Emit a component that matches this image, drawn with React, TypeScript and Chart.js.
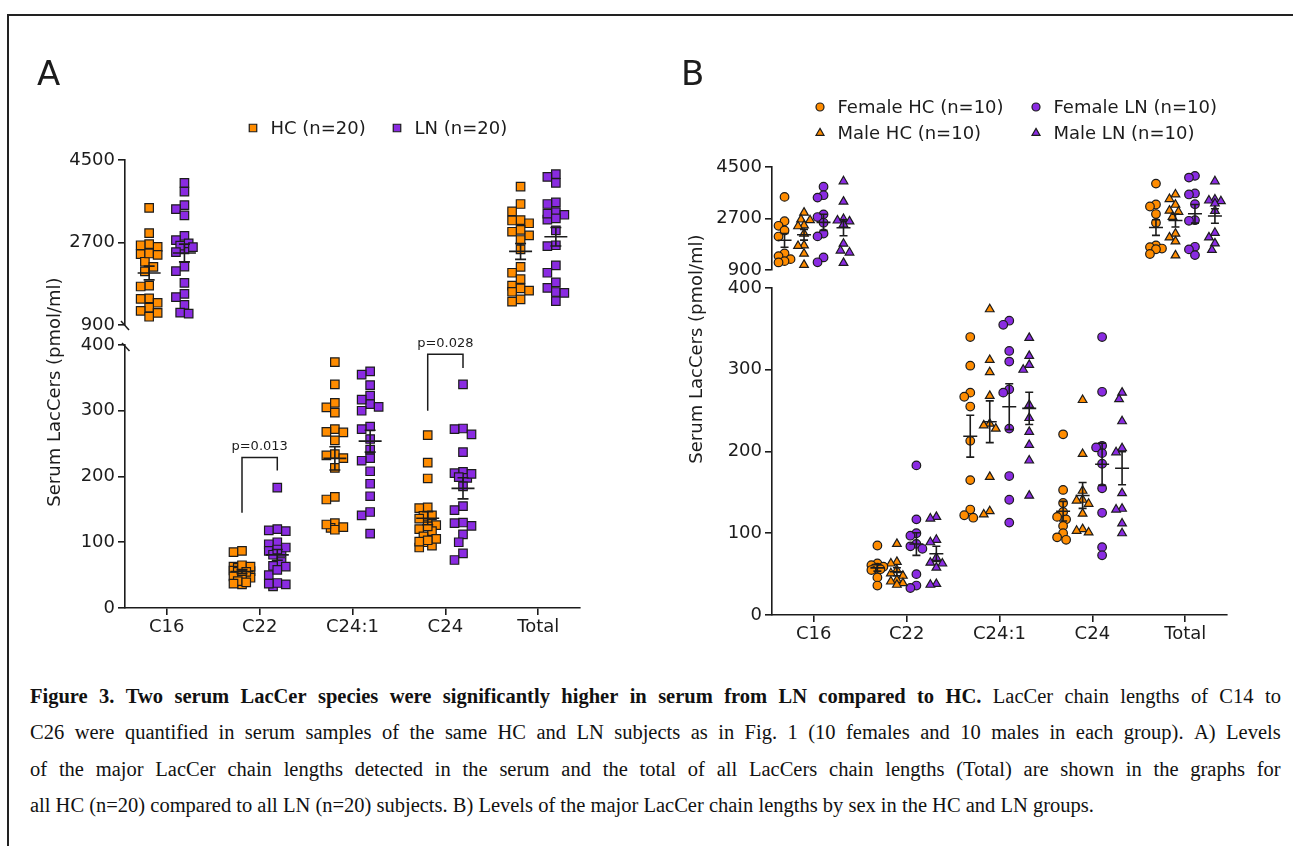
import React, { useEffect, useRef } from 'react';
import { Chart, registerables } from 'chart.js';

Chart.register(...registerables);

// ---- data ---------------------------------------------------------------
const categories = ['C16', 'C22', 'C24:1', 'C24', 'Total'];
const upperCats = [0, 4]; // plotted on the 900–4500 segment
const lowerCats = [1, 2, 3]; // plotted on the 0–400 segment
const upperTicks = [900, 2700, 4500];
const lowerTicks = [0, 100, 200, 300, 400];

// serum LacCer (pmol/ml) per subject; rows: C16, C22, C24:1, C24, Total
const femaleHC = [
  [3455, 2605, 2445, 2280, 2070, 1480, 1385, 1280, 1210, 1165],
  [85, 63, 61, 59, 58, 57, 56, 55, 46, 36],
  [340, 305, 272, 267, 255, 213, 165, 129, 122, 119],
  [221, 153, 137, 126, 120, 117, 109, 100, 95, 92],
  [3920, 3190, 3120, 2855, 2550, 1760, 1700, 1650, 1625, 1460],
];
const maleHC = [
  [2905, 2665, 2640, 2460, 2430, 2170, 1760, 1740, 1470, 1080],
  [87, 65, 63, 55, 51, 48, 43, 41, 39, 37],
  [374, 312, 297, 268, 234, 232, 228, 169, 127, 123],
  [263, 197, 152, 141, 140, 136, 124, 105, 103, 101],
  [3540, 3380, 3180, 2975, 2935, 2755, 2170, 2040, 1900, 1410],
];
const femaleLN = [
  [3810, 3515, 3430, 2845, 2750, 2550, 2175, 2075, 1340, 1170],
  [183, 117, 100, 97, 87, 84, 81, 50, 36, 33],
  [360, 355, 323, 310, 276, 272, 228, 170, 141, 113],
  [340, 273, 207, 205, 198, 185, 155, 125, 83, 73],
  [4190, 4130, 3575, 3540, 3200, 2640, 2620, 1710, 1620, 1420],
];
const maleLN = [
  [4000, 3290, 2680, 2630, 2600, 2490, 1820, 1580, 1510, 1150],
  [120, 118, 92, 89, 70, 64, 63, 58, 38, 37],
  [339, 317, 306, 300, 257, 241, 224, 208, 189, 146],
  [272, 264, 237, 204, 199, 149, 130, 129, 112, 100],
  [4000, 3365, 3330, 3305, 3225, 2965, 2200, 2040, 1830, 1600],
];

// all subjects of a group (panel A)
const allHC = femaleHC.map((v, i) => [...v, ...maleHC[i]]);
const allLN = femaleLN.map((v, i) => [...v, ...maleLN[i]]);

// significance brackets in panel A
const pLabels = ['p=0.013', 'p=0.028'];
const pCats = [1, 3];
const pBracketTop = [229, 386];
const pBracketHC = [145, 300];
const pBracketLN = [209, 365];

const yTitle = 'Serum LacCers (pmol/ml)';

// ---- styling ------------------------------------------------------------
const ORANGE = '#FF8C00';
const PURPLE = '#8A2BE2';
const INK = '#1c1c1c';
const SANS = '"DejaVu Sans", "Liberation Sans", sans-serif';
const SERIF = '"Liberation Serif", "DejaVu Serif", serif';

type Marker = 'rect' | 'circle' | 'triangle';
interface Group {
  label: string;
  values: number[][];
  offset: number;
  color: string;
  marker: Marker;
  radius: number;
  legendRadius: number;
}
interface Panel {
  letter: string;
  left: number;
  width: number;
  axisLeft: number;
  axisRight: number;
  upper: [number, number]; // page y of 4500 and 900
  lower: [number, number]; // page y of 400 and 0
  upperTop: number;
  upperH: number;
  lowerTop: number;
  lowerH: number;
  groups: Group[];
  swarmSize: number;
  swarmStep: number;
  swarmMax: number;
  meanHalf: number;
  capHalf: number;
  letterPos: [number, number];
  titlePos: [number, number];
  legend: [number, number][];
  broken: boolean;
  brackets: boolean;
}

const X_MIN = -0.45;
const X_MAX = 4.45;
const X_AXIS_H = 40;

const panels: Panel[] = [
  {
    letter: 'A',
    left: 0,
    width: 650,
    axisLeft: 125,
    axisRight: 580,
    upper: [160, 325],
    lower: [345, 608],
    upperTop: 140,
    upperH: 205,
    lowerTop: 40,
    lowerH: 620,
    groups: [
      { label: 'HC (n=20)', values: allHC, offset: -0.19, color: ORANGE, marker: 'rect', radius: 6, legendRadius: 5.3 },
      { label: 'LN (n=20)', values: allLN, offset: 0.19, color: PURPLE, marker: 'rect', radius: 6, legendRadius: 5.3 },
    ],
    swarmSize: 8.5,
    swarmStep: 4.25,
    swarmMax: 9,
    meanHalf: 11.5,
    capHalf: 5.5,
    letterPos: [37, 85],
    titlePos: [55, 392],
    legend: [
      [253, 128],
      [397, 128],
    ],
    broken: true,
    brackets: true,
  },
  {
    letter: 'B',
    left: 650,
    width: 643,
    axisLeft: 772,
    axisRight: 1227,
    upper: [167, 270],
    lower: [288, 615],
    upperTop: 147,
    upperH: 143,
    lowerTop: 40,
    lowerH: 627,
    groups: [
      { label: 'Female HC (n=10)', values: femaleHC, offset: -0.315, color: ORANGE, marker: 'circle', radius: 4.3, legendRadius: 4 },
      { label: 'Male HC (n=10)', values: maleHC, offset: -0.105, color: ORANGE, marker: 'triangle', radius: 5, legendRadius: 4.6 },
      { label: 'Female LN (n=10)', values: femaleLN, offset: 0.105, color: PURPLE, marker: 'circle', radius: 4.3, legendRadius: 4 },
      { label: 'Male LN (n=10)', values: maleLN, offset: 0.32, color: PURPLE, marker: 'triangle', radius: 5, legendRadius: 4.6 },
    ],
    swarmSize: 7,
    swarmStep: 3,
    swarmMax: 6,
    meanHalf: 7,
    capHalf: 4,
    letterPos: [681, 85],
    titlePos: [697, 349],
    legend: [
      [820, 107],
      [820, 133],
      [1036, 107],
      [1036, 133],
    ],
    broken: false,
    brackets: false,
  },
];

// ---- helpers ------------------------------------------------------------
// horizontal spread (within a limited width) so close values stay readable
function swarm(values: number[], pxPerUnit: number, size: number, step: number, maxOff: number): number[] {
  const order = values.map((_, i) => i).sort((a, b) => values[b] - values[a]);
  const cands = [0];
  for (let k = 1; k * step <= maxOff + 0.01; k++) cands.push(-k * step, k * step);
  const placed: { x: number; y: number }[] = [];
  const out = new Array(values.length).fill(0);
  order.forEach((idx) => {
    const y = values[idx] * pxPerUnit;
    let best = 0;
    let bestDist = -1;
    for (const dx of cands) {
      const d = placed.reduce((m, p) => Math.min(m, Math.hypot(p.x - dx, p.y - y)), Infinity);
      if (d >= size) {
        best = dx;
        break;
      }
      if (d > bestDist + 0.5) {
        bestDist = d;
        best = dx;
      }
    }
    placed.push({ x: best, y });
    out[idx] = best;
  });
  return out;
}

function meanSem(vals: number[]) {
  const n = vals.length;
  const mean = vals.reduce((a, b) => a + b, 0) / n;
  const sd = Math.sqrt(vals.reduce((a, b) => a + (b - mean) ** 2, 0) / (n - 1));
  return { mean, sem: sd / Math.sqrt(n) };
}

function drawMarker(ctx: CanvasRenderingContext2D, style: Marker, x: number, y: number, r: number, fill: string) {
  ctx.beginPath();
  if (style === 'rect') {
    const s = r * Math.SQRT1_2;
    ctx.rect(x - s, y - s, 2 * s, 2 * s);
  } else if (style === 'circle') {
    ctx.arc(x, y, r, 0, Math.PI * 2);
  } else {
    for (let k = 0; k < 3; k++) {
      const a = (k * 2 * Math.PI) / 3;
      const px = x + Math.sin(a) * r;
      const py = y - Math.cos(a) * r;
      if (k === 0) ctx.moveTo(px, py);
      else ctx.lineTo(px, py);
    }
  }
  ctx.closePath();
  ctx.fillStyle = fill;
  ctx.fill();
  ctx.lineWidth = 1.2;
  ctx.strokeStyle = INK;
  ctx.stroke();
}

function buildDatasets(p: Panel, cats: number[], pxPerY: number) {
  const pxPerX = (p.axisRight - p.axisLeft) / (X_MAX - X_MIN);
  return p.groups.map((g) => {
    const data: { x: number; y: number }[] = [];
    cats.forEach((c) => {
      const vals = g.values[c];
      const dx = swarm(vals, pxPerY, p.swarmSize, p.swarmStep, p.swarmMax);
      vals.forEach((v, j) => data.push({ x: c + g.offset + dx[j] / pxPerX, y: v }));
    });
    return {
      label: g.label,
      data,
      pointStyle: g.marker,
      pointRadius: g.radius,
      pointHoverRadius: g.radius,
      pointBackgroundColor: g.color,
      pointBorderColor: INK,
      pointBorderWidth: 1.2,
      showLine: false,
    };
  });
}

function yScale(p: Panel, min: number, max: number, ticks: number[]) {
  return {
    type: 'linear',
    min,
    max,
    afterBuildTicks: (s: any) => {
      s.ticks = ticks.map((value) => ({ value }));
    },
    afterFit: (s: any) => {
      s.width = p.axisLeft - p.left;
    },
    ticks: {
      callback: (v: any) => String(v),
      color: INK,
      font: { family: SANS, size: 18 },
      padding: 3,
    },
    grid: { drawOnChartArea: false, drawTicks: true, tickLength: 7, color: INK, lineWidth: 1.6 },
    border: { display: true, color: INK, width: 1.6 },
  };
}

function xScale(show: boolean) {
  return {
    type: 'linear',
    min: X_MIN,
    max: X_MAX,
    display: show,
    afterBuildTicks: (s: any) => {
      s.ticks = categories.map((_, i) => ({ value: i }));
    },
    afterFit: (s: any) => {
      s.height = show ? X_AXIS_H : 0;
    },
    ticks: {
      autoSkip: false,
      maxRotation: 0,
      callback: (v: any) => categories[v] ?? '',
      color: INK,
      font: { family: SANS, size: 18 },
      padding: 2,
    },
    grid: { drawOnChartArea: false, drawTicks: true, tickLength: 7, color: INK, lineWidth: 1.6 },
    border: { display: true, color: INK, width: 1.6 },
  };
}

function errorBars(p: Panel, cats: number[]) {
  return {
    id: 'errorBars',
    afterDatasetsDraw(chart: any) {
      const { ctx } = chart;
      const x = chart.scales.x;
      const y = chart.scales.y;
      ctx.save();
      ctx.strokeStyle = INK;
      ctx.lineWidth = 1.6;
      p.groups.forEach((g) =>
        cats.forEach((c) => {
          const { mean, sem } = meanSem(g.values[c]);
          const px = x.getPixelForValue(c + g.offset);
          const pm = y.getPixelForValue(mean);
          const ph = y.getPixelForValue(mean + sem);
          const pl = y.getPixelForValue(mean - sem);
          ctx.beginPath();
          ctx.moveTo(px - p.meanHalf, pm);
          ctx.lineTo(px + p.meanHalf, pm);
          ctx.moveTo(px, ph);
          ctx.lineTo(px, pl);
          ctx.moveTo(px - p.capHalf, ph);
          ctx.lineTo(px + p.capHalf, ph);
          ctx.moveTo(px - p.capHalf, pl);
          ctx.lineTo(px + p.capHalf, pl);
          ctx.stroke();
        })
      );
      ctx.restore();
    },
  };
}

function upperDecor(p: Panel) {
  return {
    id: 'upperDecor',
    afterDraw(chart: any) {
      if (!p.broken) return;
      const { ctx, chartArea } = chart;
      const yb = chart.scales.y.getPixelForValue(upperTicks[0]);
      const xl = chartArea.left;
      ctx.save();
      ctx.strokeStyle = INK;
      ctx.lineWidth = 1.5;
      ctx.beginPath();
      ctx.moveTo(xl - 4, yb - 4);
      ctx.lineTo(xl + 4, yb + 5);
      ctx.stroke();
      ctx.restore();
    },
  };
}

function lowerDecor(p: Panel) {
  return {
    id: 'lowerDecor',
    afterDraw(chart: any) {
      const { ctx, chartArea } = chart;
      const ox = p.left;
      const oy = p.lowerTop;
      ctx.save();
      // panel letter
      ctx.fillStyle = INK;
      ctx.font = `34px ${SANS}`;
      ctx.textAlign = 'left';
      ctx.textBaseline = 'alphabetic';
      ctx.fillText(p.letter, p.letterPos[0] - ox, p.letterPos[1] - oy);

      // axis title spanning both segments
      ctx.save();
      ctx.translate(p.titlePos[0] - ox, p.titlePos[1] - oy);
      ctx.rotate(-Math.PI / 2);
      ctx.font = `18px ${SANS}`;
      ctx.textAlign = 'center';
      ctx.textBaseline = 'middle';
      ctx.fillText(yTitle, 0, 0);
      ctx.restore();

      // legend
      p.groups.forEach((g, i) => {
        const [lx, ly] = p.legend[i];
        drawMarker(ctx, g.marker, lx - ox, ly - oy, g.legendRadius, g.color);
        ctx.fillStyle = INK;
        ctx.font = `18px ${SANS}`;
        ctx.textAlign = 'left';
        ctx.textBaseline = 'middle';
        ctx.fillText(g.label, lx - ox + 17.5, ly - oy + 1);
      });

      const x = chart.scales.x;
      const y = chart.scales.y;
      ctx.strokeStyle = INK;
      ctx.lineWidth = 1.5;

      // significance brackets
      if (p.brackets) {
        pCats.forEach((c, i) => {
          const xl = x.getPixelForValue(c + p.groups[0].offset);
          const xr = x.getPixelForValue(c + p.groups[1].offset);
          const yt = y.getPixelForValue(pBracketTop[i]);
          ctx.beginPath();
          ctx.moveTo(xl, y.getPixelForValue(pBracketHC[i]));
          ctx.lineTo(xl, yt);
          ctx.lineTo(xr, yt);
          ctx.lineTo(xr, y.getPixelForValue(pBracketLN[i]));
          ctx.stroke();
          ctx.fillStyle = INK;
          ctx.font = `13px ${SANS}`;
          ctx.textAlign = 'center';
          ctx.textBaseline = 'alphabetic';
          ctx.fillText(pLabels[i], (xl + xr) / 2, yt - 7);
        });
      }

      // axis break mark at the top of the lower segment
      if (p.broken) {
        const yt = y.getPixelForValue(lowerTicks[lowerTicks.length - 1]);
        const xl = chartArea.left;
        ctx.beginPath();
        ctx.moveTo(xl - 3, yt - 2);
        ctx.lineTo(xl + 4.5, yt + 6);
        ctx.stroke();
      }
      ctx.restore();
    },
  };
}

function upperConfig(p: Panel): any {
  const pxPerY = (p.upper[1] - p.upper[0]) / (upperTicks[2] - upperTicks[0]);
  return {
    type: 'scatter',
    data: { datasets: buildDatasets(p, upperCats, pxPerY) },
    options: {
      responsive: false,
      animation: false,
      events: [],
      layout: {
        padding: {
          left: 0,
          top: p.upper[0] - p.upperTop,
          right: p.left + p.width - p.axisRight,
          bottom: p.upperTop + p.upperH - p.upper[1],
        },
      },
      plugins: { legend: { display: false }, tooltip: { enabled: false } },
      scales: { x: xScale(false), y: yScale(p, upperTicks[0], upperTicks[2], upperTicks) },
    },
    plugins: [errorBars(p, upperCats), upperDecor(p)],
  };
}

function lowerConfig(p: Panel): any {
  const pxPerY = (p.lower[1] - p.lower[0]) / (lowerTicks[4] - lowerTicks[0]);
  return {
    type: 'scatter',
    data: { datasets: buildDatasets(p, lowerCats, pxPerY) },
    options: {
      responsive: false,
      animation: false,
      events: [],
      layout: {
        padding: {
          left: 0,
          top: p.lower[0] - p.lowerTop,
          right: p.left + p.width - p.axisRight,
          bottom: p.lowerTop + p.lowerH - p.lower[1] - X_AXIS_H,
        },
      },
      plugins: { legend: { display: false }, tooltip: { enabled: false } },
      scales: { x: xScale(true), y: yScale(p, lowerTicks[0], lowerTicks[4], lowerTicks) },
    },
    plugins: [errorBars(p, lowerCats), lowerDecor(p)],
  };
}

// ---- caption ------------------------------------------------------------
const captionLines = [
  {
    bold: 'Figure 3. Two serum LacCer species were significantly higher in serum from LN compared to HC.',
    text: 'LacCer chain lengths of C14 to',
    justify: true,
  },
  {
    bold: '',
    text: 'C26 were quantified in serum samples of the same HC and LN subjects as in Fig. 1 (10 females and 10 males in each group). A) Levels',
    justify: true,
  },
  {
    bold: '',
    text: 'of the major LacCer chain lengths detected in the serum and the total of all LacCers chain lengths (Total) are shown in the graphs for',
    justify: true,
  },
  {
    bold: '',
    text: 'all HC (n=20) compared to all LN (n=20) subjects. B) Levels of the major LacCer chain lengths by sex in the HC and LN groups.',
    justify: false,
  },
];
const captionCenters = [696, 732, 769, 805];

function Caption() {
  return (
    <>
      {captionLines.map((line, i) => {
        const words = [
          ...(line.bold ? line.bold.split(' ').map((w) => ({ w, b: true })) : []),
          ...line.text.split(' ').map((w) => ({ w, b: false })),
        ];
        const style: React.CSSProperties = {
          position: 'absolute',
          left: 30,
          width: 1251,
          top: captionCenters[i] - 12,
          height: 24,
          lineHeight: '24px',
          fontFamily: SERIF,
          fontSize: 20.5,
          color: '#111',
          whiteSpace: 'nowrap',
        };
        if (line.justify) {
          return (
            <div key={i} style={{ ...style, display: 'flex', justifyContent: 'space-between' }}>
              {words.map((w, j) => (
                <span key={j} style={{ fontWeight: w.b ? 'bold' : 'normal' }}>
                  {w.w}
                </span>
              ))}
            </div>
          );
        }
        return (
          <div key={i} style={style}>
            {line.text}
          </div>
        );
      })}
    </>
  );
}

export default function App() {
  const aUpper = useRef<HTMLCanvasElement>(null);
  const aLower = useRef<HTMLCanvasElement>(null);
  const bUpper = useRef<HTMLCanvasElement>(null);
  const bLower = useRef<HTMLCanvasElement>(null);
  const refs = [
    [aUpper, aLower],
    [bUpper, bLower],
  ];

  useEffect(() => {
    const charts: Chart[] = [];
    panels.forEach((p, i) => {
      const [up, low] = refs[i];
      if (low.current) charts.push(new Chart(low.current, lowerConfig(p)));
      if (up.current) charts.push(new Chart(up.current, upperConfig(p)));
    });
    return () => charts.forEach((c) => c.destroy());
  }, []);

  return (
    <div
      style={{
        position: 'absolute',
        left: 0,
        top: 0,
        width: 1293,
        height: 846,
        background: '#fff',
        overflow: 'hidden',
      }}
    >
      <div style={{ position: 'absolute', left: 7, top: 14, width: 1293, height: 2, background: '#222' }} />
      <div style={{ position: 'absolute', left: 7, top: 14, width: 2, height: 846, background: '#222' }} />
      {panels.map((p, i) => (
        <React.Fragment key={p.letter}>
          <canvas
            ref={refs[i][1]}
            width={p.width}
            height={p.lowerH}
            style={{ position: 'absolute', left: p.left, top: p.lowerTop, width: p.width, height: p.lowerH }}
          />
          <canvas
            ref={refs[i][0]}
            width={p.width}
            height={p.upperH}
            style={{ position: 'absolute', left: p.left, top: p.upperTop, width: p.width, height: p.upperH }}
          />
        </React.Fragment>
      ))}
      <Caption />
    </div>
  );
}
